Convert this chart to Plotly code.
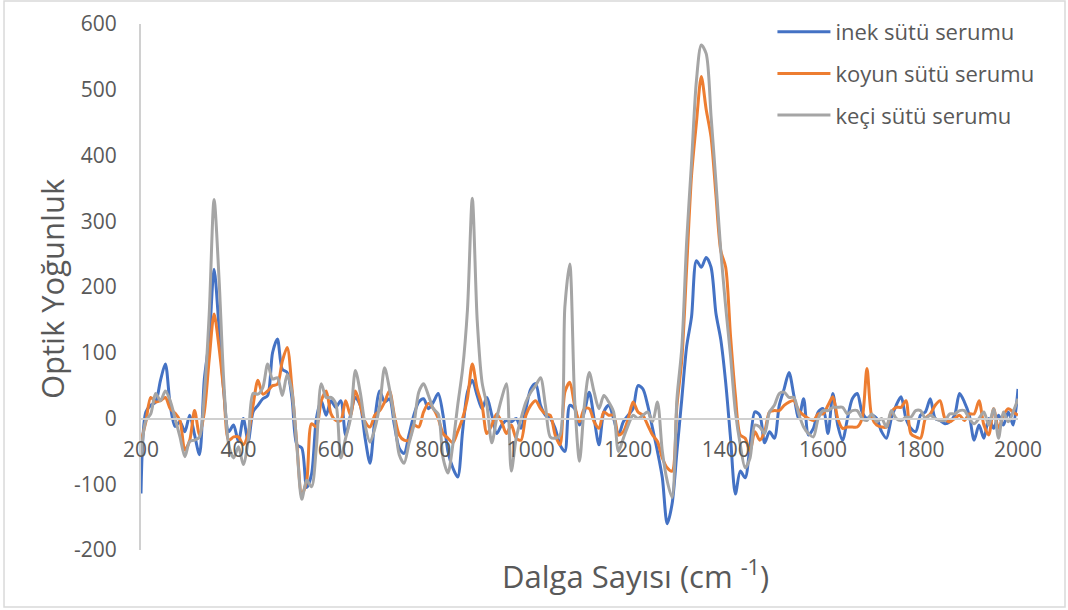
import plotly.graph_objects as go

# Wavenumber axis (cm^-1), sampled every 10 units
WAVENUMBER = list(range(200, 2001, 10))

# Optical density for cow milk whey
INEK = [
    -114, 10, 20, 25, 58, 83, 20, -12, -5, -20,
    5, -25, -55, 60, 120, 227, 140, 40, -20, -10,
    -35, 0, -35, 10, 20, 30, 35, 100, 121, 75,
    70, 30, -40, -45, -105, -85, 0, 27, 5, 27,
    17, 27, -25, 5, 32, 20, -30, -68, 0, 42,
    25, 30, -10, -45, -53, -25, 5, 25, 30, 15,
    25, 38, 5, -50, -75, -89, -20, 40, 58, 35,
    15, 32, 5, -23, -10, -3, -5, 0, -15, 15,
    45, 53, 20, 5, 0, -15, -40, -50, 20, 15,
    -10, 10, 40, 0, -40, 10, 20, 0, -25, -5,
    5, 15, 50, 45, 20, -15, -50, -90, -160, -130,
    -50, 30, 110, 155, 240, 230, 245, 230, 160, 120,
    55, -30, -115, -80, -90, -40, 10, 5, -37, -20,
    -30, 20, 45, 70, 35, 0, 30, -25, -15, 10,
    15, -23, 38, -10, -33, 0, 30, 38, 10, 0,
    5, 0, -20, -30, 0, 20, 33, 0, -15, -20,
    5, 10, 30, 0, -3, -8, -5, 5, 38, 25,
    5, -33, -10, -30, 0, -15, 5, -10, 10, -10,
    45,
]

# Optical density for sheep milk whey
KOYUN = [
    -35, -5, 32, 25, 27, 32, 15, 8, -3, -48,
    -33, 12, -25, 10, 90, 159, 109, 40, -33, -28,
    -28, -40, -23, 20, 58, 37, 42, 50, 52, 87,
    108, 45, -40, -115, -95, -8, -13, 27, 42, 7,
    -3, -3, 27, 5, 42, 20, -5, -13, 5, 12,
    25, 42, 5, -25, -33, -33, -10, -13, 10, 23,
    15, 0, -23, -30, -37, -20, 0, 30, 83, 45,
    20, -23, -10, 7, -5, -23, -10, -30, -33, 5,
    20, 27, 15, 7, 5, -25, -40, 40, 55, 20,
    -5, 15, 15, -5, -15, 10, 5, 5, -25, -20,
    0, 25, 10, 5, -10, -25, -35, -60, -75, -80,
    20, 90, 230, 370, 450, 520, 470, 428, 340, 255,
    230, 125, 35, -25, -30, -50, -20, -33, -20, 10,
    12, 12, 20, 25, 27, 12, 5, 0, -3, 7,
    7, 20, 33, 0, -15, -13, -13, -13, 0, 76,
    2, -10, -13, -13, 10, 17, 17, 27, -23, -28,
    -30, 0, 7, 20, 27, 0, -5, 0, 5, -3,
    7, 7, 27, -10, -25, 15, -15, 5, 15, 10,
    5,
]

# Optical density for goat milk whey
KECI = [
    -58, -3, 7, 38, 27, 42, 27, 0, -28, -58,
    -35, -33, -28, 37, 159, 333, 215, 55, -40, -60,
    -43, -70, -33, 38, 37, 47, 83, 60, 62, 35,
    67, 40, -43, -123, -94, -104, -43, 53, 32, 32,
    22, -60, -30, 0, 73, 40, -10, -36, -15, 20,
    77, 45, 0, -55, -68, -38, -10, 40, 53, 35,
    15, 7, -60, -83, -40, 20, 75, 165, 335, 150,
    55, 20, -37, 0, 30, 53, -80, -30, 0, 25,
    40, 50, 62, 20, -28, -30, -25, 170, 235, 30,
    -65, 20, 70, 40, 15, 35, 25, 10, -50, -30,
    -10, 5, 0, 5, 10, -5, 25, -50, -95, -120,
    30, 108, 270, 390, 514, 568, 555, 460, 360, 255,
    170, 95, 10, -40, -75, -60, -10, -13, -23, 10,
    20, 38, 40, 32, 32, 7, -13, -23, -28, 0,
    12, 12, 17, 17, 17, 7, 12, 12, 0, -3,
    7, -5, 0, -13, 12, 0, -3, 2, 2, 12,
    12, 0, 5, 0, -3, -3, 7, 7, 12, 12,
    0, -8, 0, 10, -10, 15, -30, 10, -5, 10,
    30,
]

SERIES = [
    ("inek sütü serumu", INEK, "#4472C4"),
    ("koyun sütü serumu", KOYUN, "#ED7D31"),
    ("keçi sütü serumu", KECI, "#A5A5A5"),
]

Y_TICKS = [-200, -100, 0, 100, 200, 300, 400, 500, 600]
Y_LABELS = ["-200", "-100", "0", "100", "200", "300", "400", "500", "600"]
X_TICKS = [200, 400, 600, 800, 1000, 1200, 1400, 1600, 1800, 2000]
X_LABELS = ["200", "400", "600", "800", "1000", "1200", "1400", "1600", "1800", "2000"]

TEXT_GREY = "#595959"
AXIS_GREY = "#D0D0D0"
FONT = "Open Sans"

fig = go.Figure()
for name, values, color in SERIES:
    fig.add_trace(go.Scatter(
        x=WAVENUMBER, y=values, name=name, mode="lines",
        line=dict(color=color, width=3, shape="spline", smoothing=0.8),
        legendgroup=name,
    ))

fig.update_layout(
    width=1068, height=610,
    margin=dict(l=141, r=50, t=24, b=60, autoexpand=False),
    paper_bgcolor="white", plot_bgcolor="white",
    font=dict(family=FONT, color=TEXT_GREY),
    showlegend=True,
    legend=dict(
        x=0.72, y=1.0247, xanchor="left", yanchor="top",
        font=dict(size=22, color=TEXT_GREY, family=FONT),
        bgcolor="rgba(0,0,0,0)", itemwidth=53, tracegroupgap=10,
    ),
    xaxis=dict(
        range=[200, 2000], tickvals=X_TICKS, ticktext=X_LABELS,
        showgrid=False, zeroline=False,
        showline=True, linecolor=AXIS_GREY, linewidth=2,
        anchor="free", position=0.25, ticks="", ticklabelstandoff=12,
        tickfont=dict(size=21, color=TEXT_GREY),
    ),
    yaxis=dict(
        range=[-200, 600], tickvals=Y_TICKS, ticktext=Y_LABELS,
        showgrid=False, zeroline=False,
        showline=True, linecolor=AXIS_GREY, linewidth=2,
        ticks="", ticklabelstandoff=18,
        tickfont=dict(size=21, color=TEXT_GREY),
    ),
    annotations=[
        dict(text="Optik Yoğunluk", xref="paper", yref="paper",
             x=-0.1015, y=0.498, textangle=-90, showarrow=False,
             xanchor="center", yanchor="middle",
             font=dict(size=31, color=TEXT_GREY)),
        dict(text="Dalga Sayısı (cm <sup>-1</sup>)", xref="paper", yref="paper",
             x=0.564, y=-0.0475, showarrow=False,
             xanchor="center", yanchor="middle",
             font=dict(size=31, color=TEXT_GREY)),
    ],
    shapes=[
        dict(type="rect", xref="paper", yref="paper",
             x0=-0.1562, x1=1.0536, y0=-0.1084, y1=1.0437,
             line=dict(color="#D9D9D9", width=1.5), fillcolor="rgba(0,0,0,0)",
             layer="below"),
    ],
)

fig.write_html("out.html")
